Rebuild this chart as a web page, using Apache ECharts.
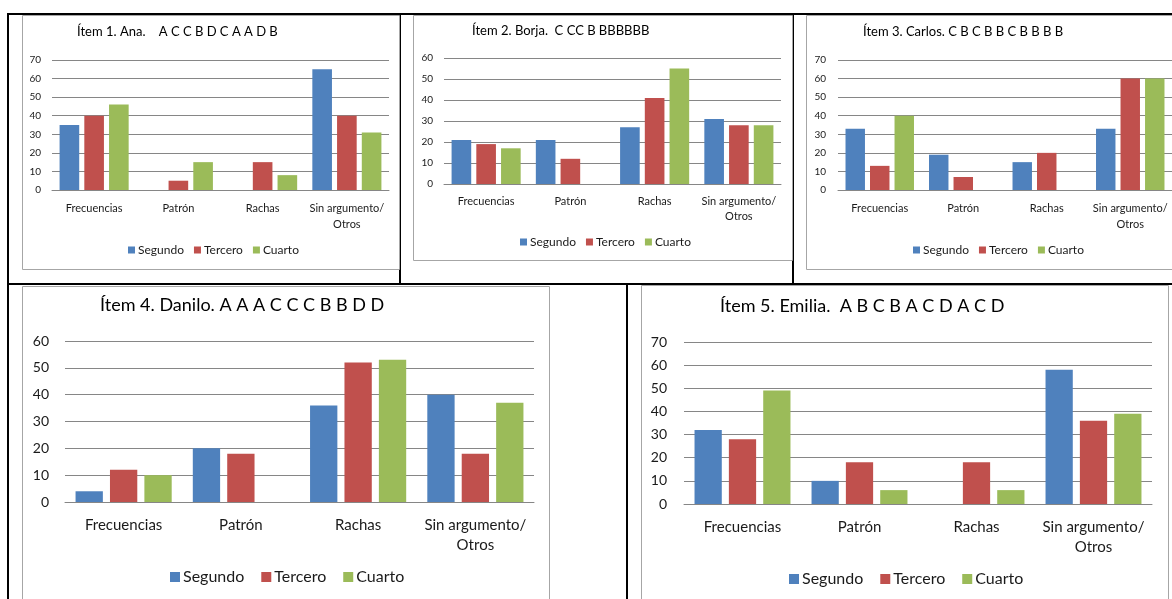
<!DOCTYPE html>
<html>
<head>
<meta charset="utf-8">
<script src="https://cdn.jsdelivr.net/npm/echarts@6/dist/echarts.min.js"></script>
<style>
  html, body { margin: 0; padding: 0; background: #ffffff; }
  #chart { width: 1172px; height: 599px; }
</style>
</head>
<body>
<div id="chart"></div>
<script>
// Shared categories and series names
const categories = ['Frecuencias', 'Patrón', 'Rachas', 'Sin argumento/\nOtros'];
const seriesNames = ['Segundo', 'Tercero', 'Cuarto'];
const seriesColors = ['#4F81BD', '#C0504D', '#9BBB59'];

// Panel titles
const titles = [
  'Ítem 1. Ana.    A C C B D C A A D B',
  'Ítem 2. Borja.  C CC B BBBBBB',
  'Ítem 3. Carlos. C B C B B C B B B B',
  'Ítem 4. Danilo. A A A C C C B B D D',
  'Ítem 5. Emilia.  A B C B A C D A C D'
];

// Value-axis maxima
const yMax = [70, 60, 70, 60, 70];

// Percentages per item (Frecuencias, Patrón, Rachas, Sin argumento/Otros)
const anaSegundo = [35, 0, 0, 65];
const anaTercero = [40, 5, 15, 40];
const anaCuarto = [46, 15, 8, 31];

const borjaSegundo = [21, 21, 27, 31];
const borjaTercero = [19, 12, 41, 28];
const borjaCuarto = [17, 0, 55, 28];

const carlosSegundo = [33, 19, 15, 33];
const carlosTercero = [13, 7, 20, 60];
const carlosCuarto = [40, 0, 0, 60];

const daniloSegundo = [4, 20, 36, 40];
const daniloTercero = [12, 18, 52, 18];
const daniloCuarto = [10, 0, 53, 37];

const emiliaSegundo = [32, 10, 0, 58];
const emiliaTercero = [28, 18, 18, 36];
const emiliaCuarto = [49, 6, 6, 39];

const panelValues = [
  [anaSegundo, anaTercero, anaCuarto],
  [borjaSegundo, borjaTercero, borjaCuarto],
  [carlosSegundo, carlosTercero, carlosCuarto],
  [daniloSegundo, daniloTercero, daniloCuarto],
  [emiliaSegundo, emiliaTercero, emiliaCuarto]
];

// Layout of each panel on the page
const layout = [
  { grid: { left: 52, top: 60, width: 337, height: 130 }, font: 10, catFont: 11, lineH: 16, yMargin: 11, xMargin: 10,
    title: { left: 77, top: 25, size: 13 }, legend: { left: 128, top: 244, icon: 7, size: 12, gap: 10 },
    frame: [22.5, 15.5, 377, 254] },
  { grid: { left: 444, top: 58, width: 337, height: 126 }, font: 10, catFont: 11, lineH: 15, yMargin: 11, xMargin: 10,
    title: { left: 472, top: 24, size: 13 }, legend: { left: 520, top: 236, icon: 7, size: 12, gap: 10 },
    frame: [413.5, 15.5, 379, 245] },
  { grid: { left: 838, top: 60, width: 337, height: 130 }, font: 10, catFont: 11, lineH: 16, yMargin: 12, xMargin: 10,
    title: { left: 863, top: 25, size: 13 }, legend: { left: 913, top: 244, icon: 7, size: 12, gap: 10 },
    frame: [806.5, 15.5, 400, 254] },
  { grid: { left: 65, top: 341, width: 469, height: 161 }, font: 14, catFont: 15, lineH: 20, yMargin: 16, xMargin: 13,
    title: { left: 100, top: 296, size: 18 }, legend: { left: 170, top: 569, icon: 10, size: 16, gap: 17 },
    frame: [22.5, 286.5, 527, 340] },
  { grid: { left: 684, top: 342, width: 468, height: 162 }, font: 14, catFont: 15, lineH: 20, yMargin: 17, xMargin: 13,
    title: { left: 720, top: 297, size: 18 }, legend: { left: 789, top: 571, icon: 10, size: 16, gap: 17 },
    frame: [641.5, 285.5, 527, 340] }
];

const fontFamily = 'Lato, "Liberation Sans", sans-serif';
const textColor = '#1a1a1a';
const gridColor = '#868686';

const grids = [], xAxes = [], yAxes = [], series = [], titleOpts = [], legends = [];

layout.forEach((p, i) => {
  grids.push(Object.assign({ containLabel: false }, p.grid));
  xAxes.push({
    type: 'category', gridIndex: i, data: categories,
    axisLine: { lineStyle: { color: gridColor, width: 1 } },
    axisTick: { show: false },
    axisLabel: { interval: 0, color: textColor, fontFamily: fontFamily, fontSize: p.catFont,
                 lineHeight: p.lineH, margin: p.xMargin }
  });
  yAxes.push({
    type: 'value', gridIndex: i, min: 0, max: yMax[i], interval: 10,
    axisLine: { show: false }, axisTick: { show: false },
    splitLine: { lineStyle: { color: gridColor, width: 1 } },
    axisLabel: { color: textColor, fontFamily: fontFamily, fontSize: p.font, margin: p.yMargin }
  });
  titleOpts.push({
    text: titles[i], left: p.title.left, top: p.title.top, padding: 0,
    textStyle: { fontFamily: fontFamily, fontSize: p.title.size, fontWeight: 'normal',
                 color: '#000000', lineHeight: p.title.size }
  });
  legends.push({
    data: seriesNames, left: p.legend.left, top: p.legend.top, padding: 0,
    icon: 'rect', itemWidth: p.legend.icon, itemHeight: p.legend.icon, itemGap: p.legend.gap,
    selectedMode: false,
    textStyle: { fontFamily: fontFamily, fontSize: p.legend.size, color: textColor, padding: [0, 0, 0, -2] }
  });
  seriesNames.forEach((name, j) => {
    series.push({
      type: 'bar', name: name, xAxisIndex: i, yAxisIndex: i,
      data: panelValues[i][j],
      itemStyle: { color: seriesColors[j] },
      barGap: '26%', barCategoryGap: '18%'
    });
  });
});

// Table rules and chart frames
const graphics = [];
const black = '#000000';
const rules = [
  [7, 13, 1165, 2],     // top rule
  [7, 283, 1165, 2],    // middle rule
  [7, 13, 2, 586],      // left rule
  [399, 13, 2, 272],    // divider between panels 1 and 2
  [792, 13, 2, 272],    // divider between panels 2 and 3
  [626, 283, 2, 316]    // divider between panels 4 and 5
];
rules.forEach(r => graphics.push({
  type: 'rect', silent: true, z: 10,
  shape: { x: r[0], y: r[1], width: r[2], height: r[3] },
  style: { fill: black }
}));
layout.forEach(p => graphics.push({
  type: 'rect', silent: true, z: 11,
  shape: { x: p.frame[0], y: p.frame[1], width: p.frame[2], height: p.frame[3] },
  style: { fill: null, stroke: '#a6a6a6', lineWidth: 1 }
}));

const chart = echarts.init(document.getElementById('chart'), null, { renderer: 'canvas' });
chart.setOption({
  animation: false,
  backgroundColor: '#ffffff',
  color: seriesColors,
  title: titleOpts,
  legend: legends,
  grid: grids,
  xAxis: xAxes,
  yAxis: yAxes,
  series: series,
  graphic: graphics
});
</script>
</body>
</html>
